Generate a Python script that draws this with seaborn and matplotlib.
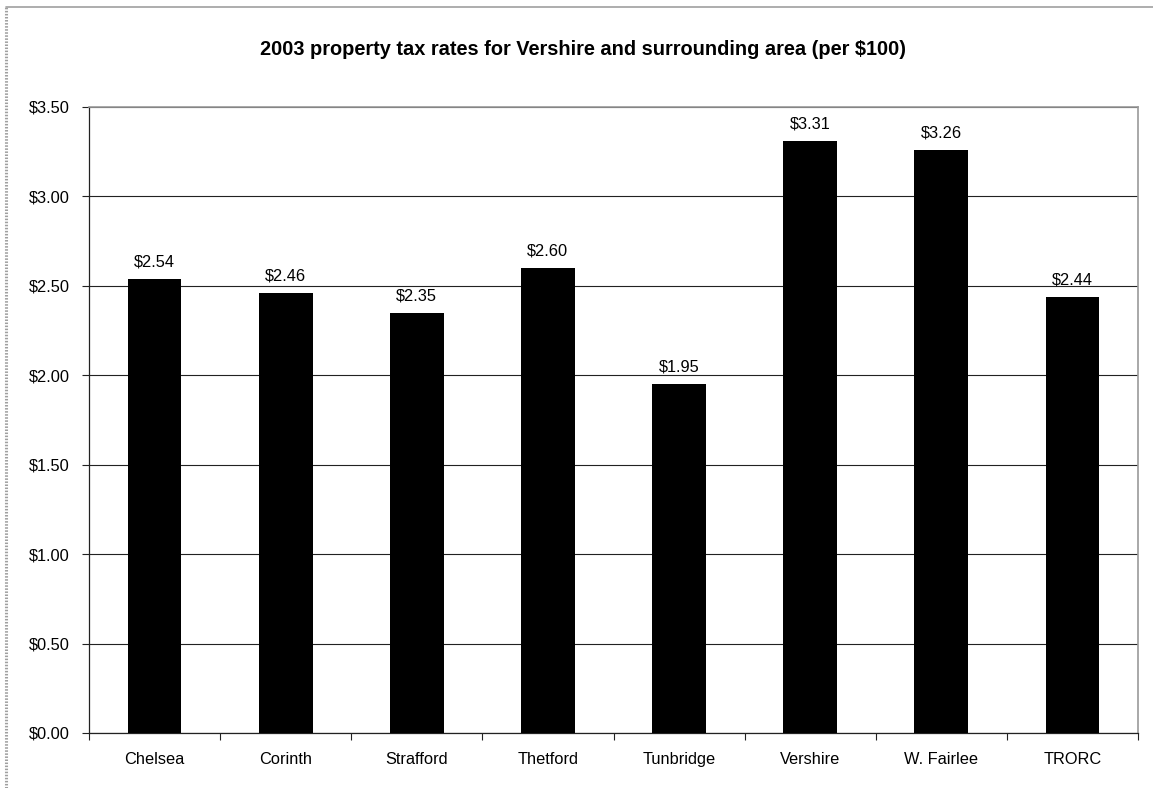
import matplotlib
matplotlib.use("Agg")
import matplotlib.pyplot as plt
from matplotlib.lines import Line2D
from matplotlib.ticker import FixedLocator, MultipleLocator, FuncFormatter
import seaborn as sns
import pandas as pd

towns = ["Chelsea", "Corinth", "Strafford", "Thetford", "Tunbridge",
         "Vershire", "W. Fairlee", "TRORC"]
rates = [2.54, 2.46, 2.35, 2.60, 1.95, 3.31, 3.26, 2.44]
title = "2003 property tax rates for Vershire and surrounding area (per $100)"

sns.set_theme(style="white")
plt.rcParams["font.family"] = ["Liberation Sans", "DejaVu Sans"]

df = pd.DataFrame({"town": towns, "rate": rates})

fig = plt.figure(figsize=(11.53, 7.88), dpi=100)
ax = fig.add_axes([89 / 1153, 1 - 733 / 788, (1138 - 89) / 1153, (733 - 107) / 788])

sns.barplot(data=df, x="town", y="rate", color="black", width=0.41,
            saturation=1, ax=ax, zorder=3)
for p in ax.patches:
    p.set_edgecolor("none")

ax.set_xlim(-0.5, len(towns) - 0.5)
ax.set_ylim(0, 3.5)
ax.yaxis.set_major_locator(MultipleLocator(0.5))
ax.yaxis.set_major_formatter(FuncFormatter(lambda v, _: f"${v:.2f}"))

ax.set_xlabel("")
ax.set_ylabel("")

# horizontal gridlines
ax.yaxis.grid(True, color="#222222", linewidth=0.8, zorder=1)
ax.set_axisbelow(True)

# category boundary tick marks
ax.xaxis.set_minor_locator(FixedLocator([i - 0.5 for i in range(len(towns) + 1)]))
ax.tick_params(axis="x", which="major", length=0, pad=14, labelsize=11.8,
               labelcolor="black")
ax.tick_params(axis="x", which="minor", length=5, width=0.8, color="#222222",
               direction="out", bottom=True)
ax.tick_params(axis="y", which="major", length=5, width=0.8, color="#222222",
               direction="out", left=True, pad=9, labelsize=11.8,
               labelcolor="black")

for side in ["left", "bottom"]:
    ax.spines[side].set_color("#222222")
    ax.spines[side].set_linewidth(0.9)
for side in ["top", "right"]:
    ax.spines[side].set_color("#9a9a9a")
    ax.spines[side].set_linewidth(1.2)
    ax.spines[side].set_visible(True)

# value labels
for i, v in enumerate(rates):
    ax.annotate(f"${v:.2f}", xy=(i, v), xytext=(0, 9), textcoords="offset points",
                ha="center", va="baseline", fontsize=11.8, color="black")

fig.text(583.5 / 1153, 1 - 55 / 788, title, ha="center", va="baseline",
         fontsize=14.4, fontweight="bold", color="black")

# outer chart-area frame
fig.add_artist(Line2D([6 / 1153, 1.0], [1 - 7 / 788, 1 - 7 / 788],
                      transform=fig.transFigure, color="#a0a0a0", linewidth=1.2))
fig.add_artist(Line2D([6 / 1153, 6 / 1153], [0.0, 1 - 7 / 788],
                      transform=fig.transFigure, color="#a0a0a0", linewidth=2.2,
                      linestyle=(0, (0.5, 0.5))))

fig.savefig("out.png", dpi=100)
